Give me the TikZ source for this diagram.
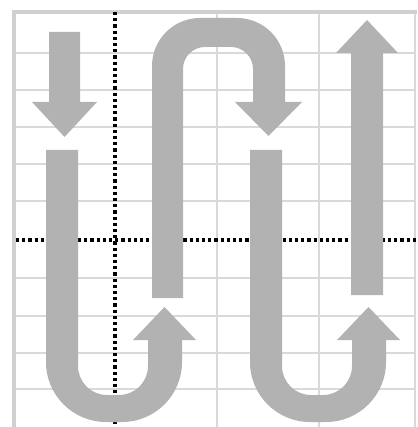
\documentclass[tikz,border=0pt]{standalone}
\definecolor{arrowgray}{RGB}{178,178,178}
\definecolor{gridgray}{RGB}{217,217,217}
\definecolor{bordergray}{RGB}{208,208,208}
\tikzset{
  gridline/.style={draw=gridgray, line width=2pt},
  borderline/.style={draw=bordergray, line width=4pt},
  dotline/.style={draw=black, line width=3.4pt, dash pattern=on 3.2pt off 3pt},
  arrowfill/.style={fill=arrowgray}
}
\begin{document}
\begin{tikzpicture}[x=1pt,y=-1pt]
\useasboundingbox (0,0) rectangle (417,427);
% grid
\foreach \y in {53,90,127,164,201,278,316,353,389}
  \draw[gridline] (14,\y) -- (415,\y);
\foreach \x in {217,319,415}
  \draw[gridline] (\x,12) -- (\x,427);
\draw[borderline] (14,427) -- (14,12) -- (417,12);
% dotted axes
\draw[dotline] (115,12) -- (115,427);
\draw[dotline] (16,240) -- (417,240);
% straight down arrow
\fill[arrowfill] (49,32) -- (80,32) -- (80,102) -- (97,102) -- (64.5,137) -- (32,102) -- (49,102) -- cycle;
% U-turn arrows (bottom)
\foreach \dx in {0,204}{
\begin{scope}[xshift=\dx pt]
\fill[arrowfill] (46,150) -- (78,150) -- (78,366)
  arc[start angle=180, end angle=90, radius=29] -- (119,395)
  arc[start angle=90, end angle=0, radius=29] -- (148,340) -- (133,340)
  -- (164.5,307) -- (196,340) -- (182,340) -- (182,362)
  arc[start angle=0, end angle=90, radius=60] -- (106,422)
  arc[start angle=90, end angle=180, radius=60] -- cycle;
\end{scope}
}
% inverted U arrow (top)
\fill[arrowfill] (152,298) -- (152,66)
  arc[start angle=180, end angle=270, radius=48] -- (237,18)
  arc[start angle=270, end angle=360, radius=48] -- (285,102) -- (302,102)
  -- (268.5,136) -- (235,102) -- (253,102) -- (253,69)
  arc[start angle=0, end angle=-90, radius=22] -- (205,47)
  arc[start angle=-90, end angle=-180, radius=22] -- (183,298) -- cycle;
% straight up arrow
\fill[arrowfill] (351,295) -- (351,53) -- (336,53) -- (367,20) -- (398,53) -- (383,53) -- (383,295) -- cycle;
\end{tikzpicture}
\end{document}
